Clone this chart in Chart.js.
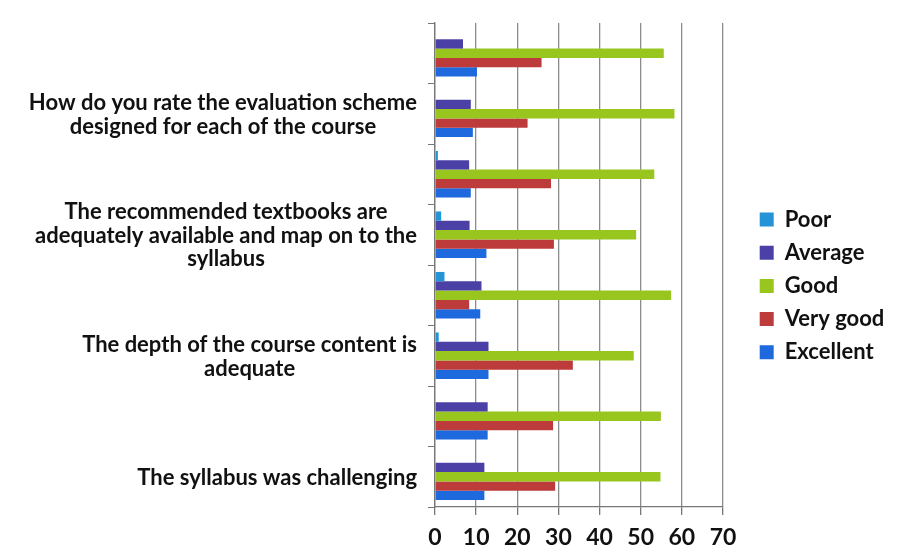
<!DOCTYPE html>
<html><head><meta charset="utf-8">
<script src="https://cdn.jsdelivr.net/npm/chart.js@4.4.1/dist/chart.umd.min.js"></script>
<style>html,body{margin:0;padding:0;background:#fff;}#wrap{width:900px;height:558px;position:relative;}</style>
</head><body><div id="wrap"><canvas id="c"></canvas></div>
<script>
const categories = [
  '',
  ['How do you rate the evaluation scheme', 'designed for each of the course'],
  '',
  ['The recommended textbooks are', 'adequately available and map on to the', 'syllabus'],
  '',
  ['The depth of the course content is', 'adequate'],
  '',
  'The syllabus was challenging'
];
const seriesNames = ['Poor', 'Average', 'Good', 'Very good', 'Excellent'];
const poor      = [0, 0, 0.7, 1.5, 2.3, 0.9, 0, 0];
const average   = [6.8, 8.7, 8.3, 8.4, 11.3, 13.0, 12.8, 12.0];
const good      = [55.6, 58.2, 53.3, 48.9, 57.4, 48.3, 54.9, 54.8];
const veryGood  = [25.9, 22.5, 28.2, 28.9, 8.3, 33.5, 28.7, 29.2];
const excellent = [10.2, 9.2, 8.7, 12.5, 11.0, 13.0, 12.8, 12.0];
const xTickValues = [0, 10, 20, 30, 40, 50, 60, 70];
const seriesColors = ['#2494d6', '#4b40a6', '#98c51e', '#bd3b3b', '#1d69dd'];

const FONT = 'Lato';
const seriesData = [poor, average, good, veryGood, excellent];

const catLabelPlugin = {
  id: 'catLabels',
  afterDraw(chart) {
    const ys = chart.scales.y;
    const ctx = chart.ctx;
    ctx.save();
    ctx.font = 'bold 22px ' + FONT;
    ctx.fillStyle = '#111';
    ctx.textAlign = 'center';
    ctx.textBaseline = 'middle';
    const rightEdge = ys.right - 18;
    const lh = 23.5;
    categories.forEach((lab, i) => {
      const lines = Array.isArray(lab) ? lab : [lab];
      if (!lines.join('')) return;
      const w = Math.max(...lines.map(l => ctx.measureText(l).width));
      const cx = rightEdge - w / 2;
      const cy = ys.getPixelForValue(i) + 1;
      lines.forEach((l, k) => ctx.fillText(l, cx, cy + (k - (lines.length - 1) / 2) * lh));
    });
    ctx.restore();
  }
};

const legendPlace = {
  id: 'legendPlace',
  afterLayout(chart) {
    const lg = chart.legend;
    if (!lg) return;
    lg.left = 748.5;
    lg.right = 900;
    lg.width = lg.right - lg.left;
    const p = lg.options.labels.padding;
    const colH = lg.columnSizes && lg.columnSizes[0] ? lg.columnSizes[0].height : 0;
    const cur = (lg.top + p + lg.bottom - colH) / 2;
    const dy = 208.5 - cur;
    lg.top += dy; lg.bottom += dy;
  }
};

new Chart(document.getElementById('c'), {
  type: 'bar',
  data: {
    labels: categories,
    datasets: seriesNames.map((n, i) => ({
      label: n,
      data: seriesData[i],
      backgroundColor: seriesColors[i],
      borderWidth: 0,
      barPercentage: 1,
      categoryPercentage: 0.77
    }))
  },
  options: {
    indexAxis: 'y',
    responsive: true,
    maintainAspectRatio: false,
    animation: false,
    layout: { padding: { left: 0, top: 23, right: 137, bottom: 4 } },
    plugins: {
      tooltip: { enabled: false },
      legend: {
        position: 'right',
        maxWidth: 40,
        labels: {
          boxWidth: 14,
          boxHeight: 14,
          padding: 11.2,
          color: '#111',
          font: { family: FONT, size: 22, weight: 'bold' }
        }
      }
    },
    scales: {
      x: {
        min: 0, max: 70,
        afterBuildTicks: s => { s.ticks = xTickValues.map(v => ({ value: v })); },
        afterFit: s => { s.height = 558 - 4 - 507; },
        grid: { color: '#8c8c8c', lineWidth: 1.3, drawTicks: true, tickLength: 8, tickColor: '#777' },
        border: { display: true, color: '#777', width: 1.3 },
        ticks: { color: '#111', padding: 9, font: { family: FONT, size: 23, weight: 'bold' } }
      },
      y: {
        afterFit: s => { s.width = 435; },
        grid: { drawOnChartArea: false, drawTicks: true, tickLength: 7, tickColor: '#777', offset: true },
        border: { display: true, color: '#777', width: 1.3 },
        ticks: { display: false }
      }
    }
  },
  plugins: [catLabelPlugin, legendPlace]
});
</script></body></html>
